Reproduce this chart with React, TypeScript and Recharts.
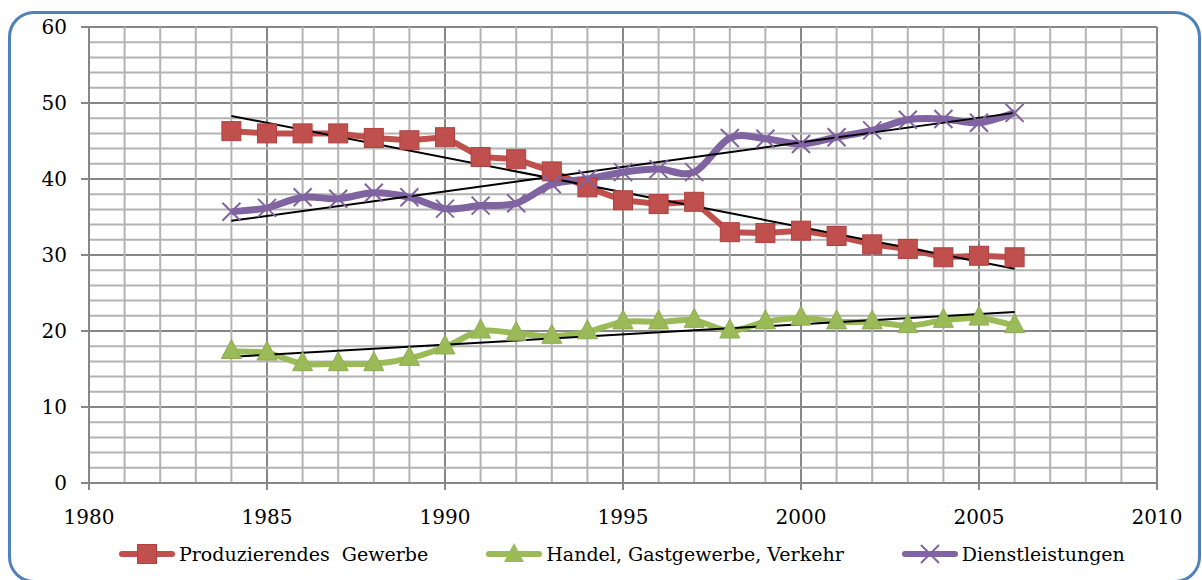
import { LineChart, Line, XAxis, YAxis, CartesianGrid, ReferenceLine } from "recharts";

const years = [
  1984, 1985, 1986, 1987, 1988, 1989, 1990, 1991, 1992, 1993, 1994, 1995,
  1996, 1997, 1998, 1999, 2000, 2001, 2002, 2003, 2004, 2005, 2006,
];
const produzierendes = [
  46.3, 46.0, 46.0, 46.0, 45.4, 45.1, 45.5, 42.9, 42.6, 41.0, 38.9, 37.2,
  36.7, 37.0, 33.0, 32.9, 33.2, 32.5, 31.4, 30.8, 29.7, 29.9, 29.7,
];
const handel = [
  17.3, 17.1, 15.7, 15.7, 15.7, 16.4, 17.9, 20.0, 19.7, 19.3, 19.9, 21.2,
  21.2, 21.4, 20.0, 21.2, 21.7, 21.2, 21.2, 20.7, 21.4, 21.7, 20.7,
];
const dienst = [
  35.7, 36.2, 37.6, 37.4, 38.2, 37.6, 36.1, 36.5, 36.8, 39.3, 40.0, 40.9,
  41.3, 40.9, 45.4, 45.3, 44.6, 45.5, 46.4, 47.8, 47.9, 47.4, 48.7,
];

// trend line end points
const trendYears = [1984, 2006];
const trendProd = [48.3, 28.2];
const trendHandel = [16.6, 22.5];
const trendDienst = [34.5, 48.7];

const xTicks = [1980, 1985, 1990, 1995, 2000, 2005, 2010];
const yTicks = [0, 10, 20, 30, 40, 50, 60];
const xMinor = Array.from({ length: 31 }, (_, i) => 1980 + i).filter((v) => v % 5 !== 0);
const yMinor = Array.from({ length: 31 }, (_, i) => i * 2).filter((v) => v % 10 !== 0);

const RED = "#c0504d";
const GREEN = "#9bbb59";
const PURPLE = "#8064a2";
const FONT = "DejaVu Serif";

const data = years.map((year, i) => ({
  year,
  prod: produzierendes[i],
  handel: handel[i],
  dienst: dienst[i],
}));

const trendData = trendYears.map((year, i) => ({
  year,
  prod: trendProd[i],
  handel: trendHandel[i],
  dienst: trendDienst[i],
}));

// Excel-like smoothing (Catmull-Rom as cubic bezier)
const smoothCurve = (context: any) => {
  let pts: number[][] = [];
  return {
    areaStart() {},
    areaEnd() {},
    lineStart() {
      pts = [];
    },
    point(x: number, y: number) {
      pts.push([x, y]);
    },
    lineEnd() {
      if (!pts.length) return;
      context.moveTo(pts[0][0], pts[0][1]);
      for (let i = 0; i < pts.length - 1; i++) {
        const p0 = pts[i - 1] || pts[i];
        const p1 = pts[i];
        const p2 = pts[i + 1];
        const p3 = pts[i + 2] || p2;
        context.bezierCurveTo(
          p1[0] + (p2[0] - p0[0]) / 6,
          p1[1] + (p2[1] - p0[1]) / 6,
          p2[0] - (p3[0] - p1[0]) / 6,
          p2[1] - (p3[1] - p1[1]) / 6,
          p2[0],
          p2[1]
        );
      }
    },
  };
};

const SquareDot = (props: any) => {
  const { cx, cy, key } = props;
  if (cx == null || cy == null) return null;
  return <rect key={key} x={cx - 9.5} y={cy - 9.5} width={19} height={19} fill={RED} stroke="#b0413e" strokeWidth={1} />;
};

const TriangleDot = (props: any) => {
  const { cx, cy, key } = props;
  if (cx == null || cy == null) return null;
  return (
    <path
      key={key}
      d={`M${cx},${cy - 12} L${cx + 10},${cy + 7} L${cx - 10},${cy + 7} Z`}
      fill={GREEN}
      stroke="#8eac52"
      strokeWidth={1}
    />
  );
};

const CrossDot = (props: any) => {
  const { cx, cy, key } = props;
  if (cx == null || cy == null) return null;
  return (
    <path
      key={key}
      d={`M${cx - 9},${cy - 9} L${cx + 9},${cy + 9} M${cx + 9},${cy - 9} L${cx - 9},${cy + 9}`}
      stroke={PURPLE}
      strokeWidth={2}
    />
  );
};

const legendItems = [
  { label: "Produzierendes  Gewerbe", color: RED, marker: "square" },
  { label: "Handel, Gastgewerbe, Verkehr", color: GREEN, marker: "triangle" },
  { label: "Dienstleistungen", color: PURPLE, marker: "cross" },
];

function LegendIcon({ color, marker }: { color: string; marker: string }) {
  return (
    <svg width={56} height={24} style={{ display: "block" }}>
      <line x1={3} y1={12} x2={53} y2={12} stroke={color} strokeWidth={6} strokeLinecap="round" />
      {marker === "square" && <rect x={18.5} y={2.5} width={19} height={19} fill={color} stroke="#b0413e" />}
      {marker === "triangle" && <path d="M28,1 L38,20 L18,20 Z" fill={color} />}
      {marker === "cross" && <path d="M19,3 L37,21 M37,3 L19,21" stroke={color} strokeWidth={2} />}
    </svg>
  );
}

export default function App() {
  return (
    <div
      style={{
        position: "fixed",
        left: 0,
        top: 0,
        width: 1202,
        height: 580,
        overflow: "hidden",
        background: "#fff",
        fontFamily: FONT,
      }}
    >
      <div
        style={{
          position: "absolute",
          left: 8,
          top: 11,
          width: 1187,
          height: 566,
          border: "3px solid #4f81bd",
          borderRadius: 26,
        }}
      />
      <div style={{ position: "absolute", left: 0, top: 0 }}>
        <LineChart data={data} width={1202} height={580} margin={{ top: 27, right: 45, left: 29, bottom: 57 }}>
          <XAxis
            dataKey="year"
            type="number"
            domain={[1980, 2010]}
            ticks={xTicks}
            allowDataOverflow
            stroke="#878787"
            strokeWidth={2}
            tickSize={7}
            tickMargin={20}
            height={40}
            tick={{ fill: "#000", fontSize: 20, fontFamily: FONT }}
          />
          <YAxis
            type="number"
            domain={[0, 60]}
            ticks={yTicks}
            stroke="#878787"
            strokeWidth={2}
            tickSize={8}
            tickMargin={14}
            width={60}
            tick={{ fill: "#000", fontSize: 20, fontFamily: FONT }}
          />
          {xMinor.map((v) => (
            <ReferenceLine key={`x${v}`} x={v} stroke="#b3b3b3" strokeWidth={2} />
          ))}
          {yMinor.map((v) => (
            <ReferenceLine key={`y${v}`} y={v} stroke="#b3b3b3" strokeWidth={2} />
          ))}
          <CartesianGrid stroke="#878787" strokeWidth={2} fill="none" />
          <Line
            dataKey="prod"
            stroke={RED}
            strokeWidth={6}
            type="linear"
            dot={SquareDot}
            activeDot={false}
            isAnimationActive={false}
          />
          <Line
            dataKey="handel"
            stroke={GREEN}
            strokeWidth={6}
            type={smoothCurve as any}
            dot={TriangleDot}
            activeDot={false}
            isAnimationActive={false}
          />
          <Line
            dataKey="dienst"
            stroke={PURPLE}
            strokeWidth={7}
            type={smoothCurve as any}
            dot={CrossDot}
            activeDot={false}
            isAnimationActive={false}
          />
          <Line data={trendData} dataKey="prod" stroke="#000" strokeWidth={2} dot={false} activeDot={false} type="linear" isAnimationActive={false} />
          <Line data={trendData} dataKey="handel" stroke="#000" strokeWidth={2} dot={false} activeDot={false} type="linear" isAnimationActive={false} />
          <Line data={trendData} dataKey="dienst" stroke="#000" strokeWidth={2} dot={false} activeDot={false} type="linear" isAnimationActive={false} />
        </LineChart>
      </div>
      <div
        style={{
          position: "absolute",
          left: 119,
          top: 542,
          display: "flex",
          alignItems: "center",
          gap: 58,
          fontSize: 19,
          whiteSpace: "pre",
        }}
      >
        {legendItems.map((item) => (
          <div key={item.label} style={{ display: "flex", alignItems: "center", gap: 4 }}>
            <LegendIcon color={item.color} marker={item.marker} />
            <span>{item.label}</span>
          </div>
        ))}
      </div>
    </div>
  );
}
